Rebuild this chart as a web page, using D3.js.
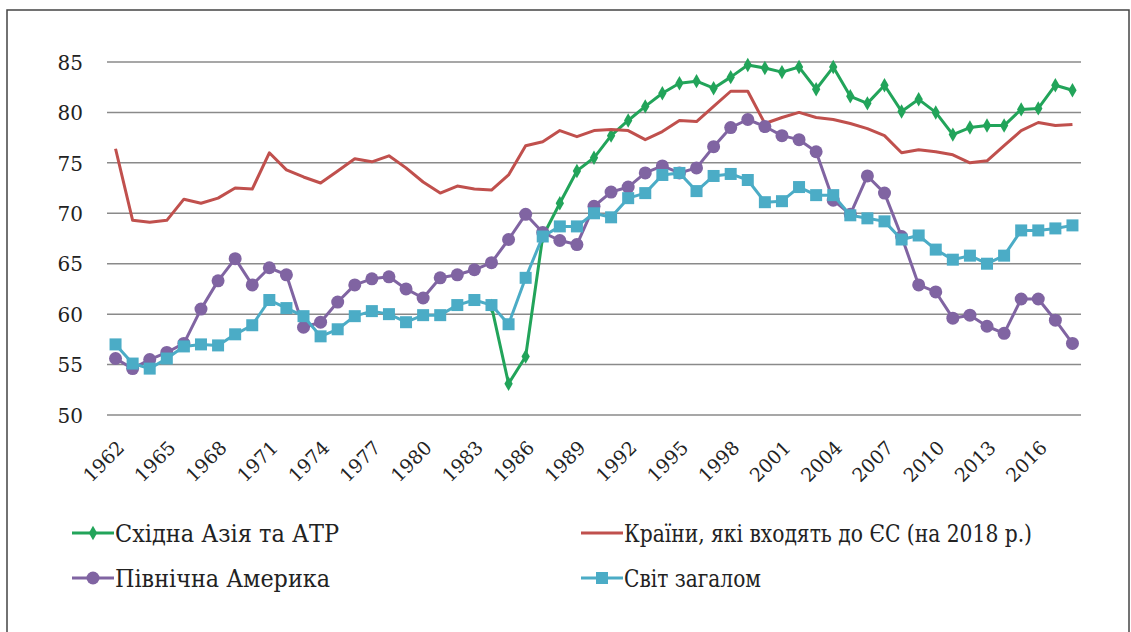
<!DOCTYPE html>
<html>
<head>
<meta charset="utf-8">
<script src="https://cdn.jsdelivr.net/npm/d3@7"></script>
<style>
  html, body { margin: 0; padding: 0; background: #fff; }
  svg { display: block; }
</style>
</head>
<body>
<svg id="chart" width="1131" height="632"></svg>
<script>
// Years on the category axis
const years = d3.range(1962, 2019);

// East Asia & Pacific: series starts in 1984
const eastAsia = [
  null, null, null, null, null, null, null, null, null, null,
  null, null, null, null, null, null, null, null, null, null,
  null, null, 60.8, 53.1, 55.8, 67.7, 71.0, 74.2, 75.5, 77.7,
  79.2, 80.6, 81.9, 82.9, 83.1, 82.4, 83.5, 84.7, 84.4, 84.0,
  84.5, 82.3, 84.5, 81.6, 80.9, 82.7, 80.1, 81.3, 80.0, 77.8,
  78.5, 78.7, 78.7, 80.3, 80.4, 82.7, 82.2
];

// EU member states (as of 2018)
const euCountries = [
  76.4, 69.3, 69.1, 69.3, 71.4, 71.0, 71.5, 72.5, 72.4, 76.0,
  74.3, 73.6, 73.0, 74.2, 75.4, 75.1, 75.7, 74.5, 73.1, 72.0,
  72.7, 72.4, 72.3, 73.8, 76.7, 77.1, 78.2, 77.6, 78.2, 78.3,
  78.2, 77.3, 78.1, 79.2, 79.1, 80.6, 82.1, 82.1, 78.9, 79.5,
  80.0, 79.5, 79.3, 78.9, 78.4, 77.7, 76.0, 76.3, 76.1, 75.8,
  75.0, 75.2, 76.7, 78.2, 79.0, 78.7, 78.8
];

// North America
const northAmerica = [
  55.6, 54.6, 55.5, 56.2, 57.1, 60.5, 63.3, 65.5, 62.9, 64.6,
  63.9, 58.7, 59.2, 61.2, 62.9, 63.5, 63.7, 62.5, 61.6, 63.6,
  63.9, 64.4, 65.1, 67.4, 69.9, 68.1, 67.3, 66.9, 70.7, 72.1,
  72.6, 74.0, 74.7, 74.0, 74.5, 76.6, 78.5, 79.3, 78.6, 77.7,
  77.3, 76.1, 71.3, 69.9, 73.7, 72.0, 67.7, 62.9, 62.2, 59.6,
  59.9, 58.8, 58.1, 61.5, 61.5, 59.4, 57.1
];

// World total
const world = [
  57.0, 55.1, 54.6, 55.6, 56.8, 57.0, 56.9, 58.0, 58.9, 61.4,
  60.6, 59.8, 57.8, 58.5, 59.8, 60.3, 60.0, 59.2, 59.9, 59.9,
  60.9, 61.4, 60.9, 59.0, 63.6, 67.7, 68.7, 68.7, 70.0, 69.6,
  71.5, 72.0, 73.8, 74.0, 72.2, 73.7, 73.9, 73.3, 71.1, 71.2,
  72.6, 71.8, 71.8, 69.8, 69.5, 69.2, 67.4, 67.8, 66.4, 65.4,
  65.8, 65.0, 65.8, 68.3, 68.3, 68.5, 68.8
];

const yTicks = [50, 55, 60, 65, 70, 75, 80, 85];
const xTickYears = d3.range(1962, 2019, 3);

const seriesNames = [
  "Східна Азія та АТР",
  "Країни, які входять  до ЄС (на 2018 р.)",
  "Північна Америка",
  "Світ загалом"
];

const series = [
  { name: seriesNames[0], values: eastAsia,     color: "#22a45a", marker: "diamond" },
  { name: seriesNames[1], values: euCountries,  color: "#c0504d", marker: null },
  { name: seriesNames[2], values: northAmerica, color: "#8064a2", marker: "circle" },
  { name: seriesNames[3], values: world,        color: "#4bacc6", marker: "square" }
];

const FONT = "DejaVu Serif";

const svg = d3.select("#chart");

// outer frame
svg.append("rect")
  .attr("x", 7).attr("y", 10)
  .attr("width", 1122).attr("height", 640)
  .attr("fill", "none").attr("stroke", "#444").attr("stroke-width", 1.5);

const plot = { left: 107, right: 1081, top: 62, bottom: 415 };

const x = d3.scaleBand().domain(years).range([plot.left, plot.right]).padding(0);
const cx = yr => x(yr) + x.bandwidth() / 2;
const y = d3.scaleLinear().domain([50, 85]).range([plot.bottom, plot.top]);

// horizontal gridlines
svg.append("g")
  .selectAll("line")
  .data(yTicks)
  .join("line")
  .attr("x1", plot.left).attr("x2", plot.right)
  .attr("y1", d => y(d)).attr("y2", d => y(d))
  .attr("stroke", "#8a8a8a").attr("stroke-width", 1.5);

// y axis labels
const yAxis = d3.axisLeft(y).tickValues(yTicks).tickSize(0).tickPadding(0);
const gy = svg.append("g").attr("transform", `translate(${plot.left - 24},0)`).call(yAxis);
gy.attr("font-family", FONT).attr("font-size", 20);
gy.select(".domain").remove();
gy.selectAll("text").attr("fill", "#222").attr("dy", "0.36em");

// x axis labels, rotated
const xAxis = d3.axisBottom(x).tickValues(xTickYears).tickSize(0).tickPadding(0);
const gx = svg.append("g").attr("transform", `translate(0,${plot.bottom})`).call(xAxis);
gx.attr("font-family", FONT).attr("font-size", 19);
gx.select(".domain").remove();
gx.selectAll("text")
  .attr("fill", "#222")
  .attr("text-anchor", "end")
  .attr("dy", "0")
  .attr("y", 0)
  .attr("transform", "translate(10,34) rotate(-45)");

// marker drawing helper
function drawMarker(g, type, color, px, py) {
  if (type === "diamond") {
    g.append("path")
      .attr("d", d3.symbol(d3.symbolDiamond, 60)())
      .attr("transform", `translate(${px},${py})`)
      .attr("fill", color);
  } else if (type === "circle") {
    g.append("circle").attr("cx", px).attr("cy", py).attr("r", 6.5).attr("fill", color);
  } else if (type === "square") {
    g.append("rect").attr("x", px - 6).attr("y", py - 6)
      .attr("width", 12).attr("height", 12).attr("fill", color);
  }
}

const line = d3.line()
  .defined(d => d.v !== null)
  .x(d => cx(d.yr))
  .y(d => y(d.v));

series.forEach(s => {
  const pts = years.map((yr, i) => ({ yr, v: s.values[i] }));
  const g = svg.append("g");
  g.append("path")
    .datum(pts)
    .attr("d", line)
    .attr("fill", "none")
    .attr("stroke", s.color)
    .attr("stroke-width", 3)
    .attr("stroke-linejoin", "round");
  if (s.marker) {
    pts.filter(p => p.v !== null).forEach(p => drawMarker(g, s.marker, s.color, cx(p.yr), y(p.v)));
  }
});

// legend: position and fitted text width of each entry
const legendLayout = [
  { x: 72,  y: 533, w: 224 },
  { x: 581, y: 533, w: 408 },
  { x: 72,  y: 578, w: 215 },
  { x: 581, y: 578, w: 137 }
];
const swatch = 42;
series.forEach((s, i) => {
  const p = legendLayout[i];
  const g = svg.append("g");
  g.append("line")
    .attr("x1", p.x).attr("x2", p.x + swatch)
    .attr("y1", p.y).attr("y2", p.y)
    .attr("stroke", s.color).attr("stroke-width", 3);
  if (s.marker) drawMarker(g, s.marker, s.color, p.x + swatch / 2, p.y);
  g.append("text")
    .attr("x", p.x + swatch + 1).attr("y", p.y)
    .attr("dy", "0.36em")
    .attr("font-family", FONT)
    .attr("font-size", 24)
    .attr("textLength", p.w)
    .attr("lengthAdjust", "spacingAndGlyphs")
    .attr("fill", "#222")
    .text(s.name);
});
</script>
</body>
</html>
